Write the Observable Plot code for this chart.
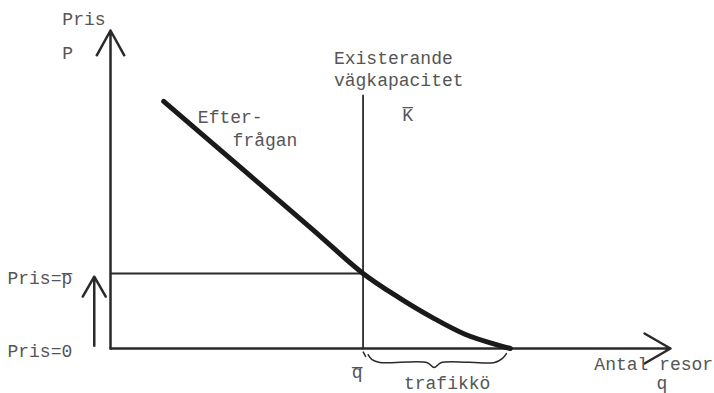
<!DOCTYPE html>
<html>
<head>
<meta charset="utf-8">
<script src="https://cdn.jsdelivr.net/npm/d3@7"></script>
<script src="https://cdn.jsdelivr.net/npm/@observablehq/plot@0.6"></script>
<style>
  html, body { margin: 0; padding: 0; background: #fff; }
</style>
</head>
<body>
<div id="chart"></div>
<script>
// Demand curve ("Efterfrågan"), quantity q vs price p (arbitrary units)
const demandQ = [9.5, 35.9, 45.1, 51.5, 57.5, 63.4, 69.5, 71.4];
const demandP = [77.7, 37.7, 23.6, 16.0, 9.7, 4.4, 0.9, 0];

// Key values
const qBar = 45.1;        // existing road capacity quantity
const pBar = 23.6;        // price p-bar
const capacityTop = 79.6; // top of capacity line
const axisMaxX = 100;
const axisMaxY = 100;

// Brace under "trafikkö" (q from qBar to demand end)
const braceQ = [46.0, 46.7, 48.1, 56.5, 57.8, 59.1, 68.6, 70.0, 70.7];
const braceP = [-1.9, -3.5, -4.4, -4.4, -6.0, -4.4, -4.4, -3.1, -1.6];

// Text labels
const labels = ["Pris", "P", "Existerande", "vägkapacitet", "K\u0305", "Efter-", "frågan",
                "Pris=p\u0305", "Pris=0", "q\u0305", "trafikkö", "Antal resor", "q"];
const labelQ = [-8.6, -8.6, 39.9, 39.9, 52.1, 15.6, 21.8, -18.4, -18.4, 43.1, 52.4, 86.4, 97.5];
const labelP = [103.5, 92.8, 91.2, 84.3, 73.3, 72.7, 65.4, 22.0, -0.8, -7.6, -11.0, -4.8, -11.0];

const demand = demandQ.map((q, i) => ({q, p: demandP[i]}));
const brace = braceQ.map((q, i) => ({q, p: braceP[i]}));
const texts = labels.map((t, i) => ({t, q: labelQ[i], p: labelP[i]}));

const ink = "#2a2a2a";
const textInk = "#555555";

const chart = Plot.plot({
  width: 714,
  height: 393,
  marginLeft: 110,
  marginRight: 44,
  marginTop: 30,
  marginBottom: 45,
  x: {domain: [0, axisMaxX], axis: null},
  y: {domain: [0, axisMaxY], axis: null},
  style: {background: "#fff", fontFamily: "'Liberation Mono', 'DejaVu Sans Mono', monospace", fontSize: "18px"},
  marks: [
    // price level line p-bar
    Plot.ruleY([pBar], {x1: 0, x2: qBar, stroke: ink, strokeWidth: 2}),
    // capacity line
    Plot.ruleX([qBar], {y1: 0, y2: capacityTop, stroke: ink, strokeWidth: 1.8}),
    // small tick above q-bar
    Plot.link([{x1: qBar, y1: -1.0, x2: qBar + 0.5, y2: -2.6}], {x1: "x1", y1: "y1", x2: "x2", y2: "y2", stroke: ink, strokeWidth: 1.5}),
    // axes as arrows
    Plot.arrow([{x1: 0, y1: 0, x2: 0, y2: axisMaxY}], {x1: "x1", y1: "y1", x2: "x2", y2: "y2", stroke: ink, strokeWidth: 2.5, headLength: 17, headAngle: 58}),
    Plot.arrow([{x1: 0, y1: 0, x2: axisMaxX, y2: 0}], {x1: "x1", y1: "y1", x2: "x2", y2: "y2", stroke: ink, strokeWidth: 2.5, headLength: 18, headAngle: 60}),
    // price rising arrow
    Plot.arrow([{x1: -2.9, y1: 0.9, x2: -2.9, y2: 22.6}], {x1: "x1", y1: "y1", x2: "x2", y2: "y2", stroke: ink, strokeWidth: 2.5, headLength: 15, headAngle: 60}),
    // demand curve
    Plot.line(demand, {x: "q", y: "p", stroke: "#1a1a1a", strokeWidth: 5, curve: "catmull-rom", strokeLinecap: "round"}),
    // brace
    Plot.line(brace, {x: "q", y: "p", stroke: ink, strokeWidth: 1.5, curve: "catmull-rom"}),
    // labels
    Plot.text(texts, {x: "q", y: "p", text: "t", textAnchor: "start", fill: textInk, fontSize: 18})
  ]
});
document.getElementById("chart").appendChild(chart);
</script>
</body>
</html>
